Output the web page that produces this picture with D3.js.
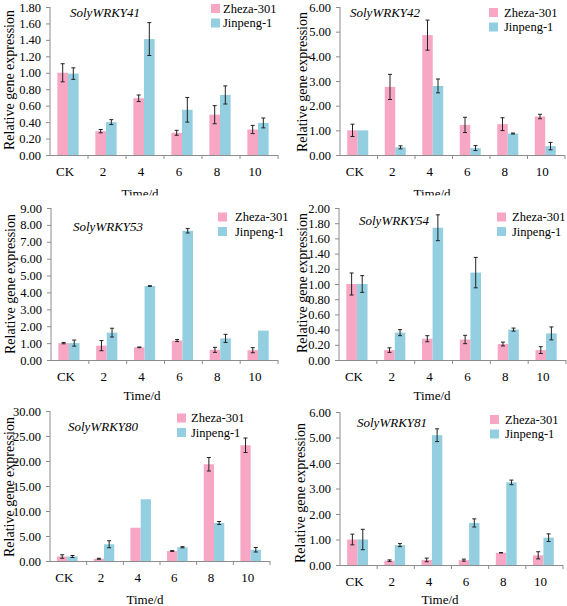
<!DOCTYPE html>
<html><head><meta charset="utf-8">
<script src="https://cdn.jsdelivr.net/npm/d3@7"></script>
<style>
html,body{margin:0;padding:0;background:#fff;}
svg{display:block;}
</style>
</head><body>
<svg id="c" width="567" height="606"></svg>
<script>
const categories = ["CK","2","4","6","8","10"];
const seriesNames = ["Zheza-301","Jinpeng-1"];
const genes = ["SolyWRKY41","SolyWRKY42","SolyWRKY53","SolyWRKY54","SolyWRKY80","SolyWRKY81"];

const zheza41 = [1.00,0.29,0.69,0.27,0.49,0.31];
const zheza41Err = [0.11,0.02,0.04,0.03,0.11,0.05];
const jin41 = [0.99,0.40,1.41,0.55,0.73,0.39];
const jin41Err = [0.07,0.03,0.20,0.15,0.11,0.06];

const zheza42 = [1.00,2.76,4.86,1.22,1.25,1.56];
const zheza42Err = [0.25,0.51,0.61,0.31,0.26,0.09];
const jin42 = [1.00,0.31,2.80,0.28,0.87,0.36];
const jin42Err = [0.00,0.06,0.28,0.10,0.02,0.15];

const zheza53 = [1.00,0.85,0.75,1.15,0.60,0.58];
const zheza53Err = [0.04,0.30,0.02,0.06,0.15,0.15];
const jin53 = [1.00,1.62,4.38,7.65,1.28,1.74];
const jin53Err = [0.18,0.26,0.02,0.13,0.24,0.00];

const zheza54 = [1.00,0.13,0.28,0.27,0.21,0.13];
const zheza54Err = [0.145,0.03,0.04,0.055,0.025,0.045];
const jin54 = [1.00,0.36,1.74,1.15,0.40,0.35];
const jin54Err = [0.11,0.04,0.17,0.20,0.02,0.085];

const zheza80 = [0.90,0.45,6.65,2.00,19.35,23.15];
const zheza80Err = [0.35,0.10,0.00,0.08,1.35,1.45];
const jin80 = [0.90,3.35,12.35,2.75,7.60,2.25];
const jin80Err = [0.20,0.70,0.00,0.12,0.30,0.45];

const zheza81 = [1.00,0.17,0.20,0.19,0.48,0.38];
const zheza81Err = [0.21,0.03,0.07,0.04,0.01,0.14];
const jin81 = [1.00,0.78,5.09,1.65,3.24,1.07];
const jin81Err = [0.40,0.06,0.25,0.16,0.09,0.15];

const yMax = [1.8,6,9,2,30,6];
const yStep = [0.2,1,1,0.2,5,1];

const zhezaVals = [zheza41,zheza42,zheza53,zheza54,zheza80,zheza81];
const zhezaErrs = [zheza41Err,zheza42Err,zheza53Err,zheza54Err,zheza80Err,zheza81Err];
const jinVals = [jin41,jin42,jin53,jin54,jin80,jin81];
const jinErrs = [jin41Err,jin42Err,jin53Err,jin54Err,jin80Err,jin81Err];

const colors = ["#f7a6c4","#93cfe0"];
const FONT = "Liberation Serif";

// layout per panel (clip: y limit for the partly hidden "Time/d" of the top row)
const layout = [
  {x0:50,x1:278,yT:7,yB:155,title:[70,17],leg:[211,223,8.5],ylab:[9,80],tlab:[140,198],clip:195.5},
  {x0:340,x1:565,yT:7,yB:155,title:[350,17],leg:[489,504,12.5],ylab:[302,82],tlab:[432,198],clip:195.5},
  {x0:51,x1:278,yT:208,yB:360,title:[73,231],leg:[218,235,217],ylab:[10,284],tlab:[142,400]},
  {x0:339,x1:566,yT:208,yB:360,title:[359,225],leg:[497,512,217],ylab:[302,283],tlab:[432,400]},
  {x0:50,x1:270,yT:411,yB:561,title:[68,431],leg:[177,191,418],ylab:[9,487],tlab:[145,604]},
  {x0:340,x1:563,yT:412,yB:565,title:[357,427],leg:[490,505,419.5],ylab:[300,493],tlab:[440,604]}
];

const svg = d3.select("#c");
svg.append("defs").append("clipPath").attr("id","topclip")
  .append("rect").attr("x",0).attr("y",0).attr("width",567).attr("height",195.5);

layout.forEach((L,i)=>{
  const g = svg.append("g");
  const x = d3.scaleBand().domain(categories).range([L.x0,L.x1]).padding(0);
  const y = d3.scaleLinear().domain([0,yMax[i]]).range([L.yB,L.yT]);
  const bw = x.bandwidth()*0.28;
  const sub = d3.scaleBand().domain(seriesNames).range([-bw,bw]);
  const ticks = d3.range(0,yMax[i]+yStep[i]/2,yStep[i]);

  const series = [
    {name:seriesNames[0],vals:zhezaVals[i],errs:zhezaErrs[i],color:colors[0]},
    {name:seriesNames[1],vals:jinVals[i],errs:jinErrs[i],color:colors[1]}
  ];

  series.forEach(s=>{
    g.selectAll(null).data(categories).enter().append("rect")
      .attr("x",(c)=>x(c)+x.bandwidth()/2-1+sub(s.name))
      .attr("width",sub.bandwidth())
      .attr("y",(c,j)=>y(s.vals[j]))
      .attr("height",(c,j)=>y(0)-y(s.vals[j]))
      .attr("fill",s.color);
  });
  series.forEach(s=>{
    categories.forEach((c,j)=>{
      const e = s.errs[j];
      if(e<=0.0001) return;
      const cx = x(c)+x.bandwidth()/2-1+sub(s.name)+sub.bandwidth()/2;
      const yt = y(s.vals[j]+e), yb = y(Math.max(0,s.vals[j]-e));
      g.append("line").attr("x1",cx).attr("x2",cx).attr("y1",yt).attr("y2",yb).attr("stroke","#222").attr("stroke-width",1);
      [yt,yb].forEach(yy=>g.append("line").attr("x1",cx-2).attr("x2",cx+2).attr("y1",yy).attr("y2",yy).attr("stroke","#222").attr("stroke-width",1));
    });
  });

  // y axis
  const ya = d3.axisLeft(y).tickValues(ticks).tickFormat(d3.format(".2f")).tickSize(4).tickPadding(5);
  const yg = g.append("g").attr("transform",`translate(${L.x0},0)`).call(ya);
  yg.attr("font-family",FONT).attr("font-size",12.5);
  yg.select(".domain").attr("stroke","#8c8c8c").attr("d",`M0,${L.yB}V${L.yT}`);
  yg.selectAll(".tick line").attr("stroke","#8c8c8c");
  yg.selectAll("text").attr("fill","#000");

  // x axis
  const xg = g.append("g");
  xg.append("line").attr("x1",L.x0).attr("x2",L.x1).attr("y1",L.yB+0.5).attr("y2",L.yB+0.5).attr("stroke","#8c8c8c");
  categories.forEach(c=>{
    xg.append("line").attr("x1",x(c)+x.bandwidth()).attr("x2",x(c)+x.bandwidth())
      .attr("y1",L.yB).attr("y2",L.yB+4).attr("stroke","#8c8c8c");
    xg.append("text").attr("x",x(c)+x.bandwidth()/2-4).attr("y",L.yB+21)
      .attr("text-anchor","middle").attr("font-family",FONT).attr("font-size",13).text(c);
  });

  // axis titles
  g.append("text").attr("transform",`translate(${L.ylab[0]+5},${L.ylab[1]}) rotate(-90)`)
    .attr("text-anchor","middle").attr("font-family",FONT).attr("font-size",14).text("Relative gene expression");
  const tl = g.append("text").attr("x",L.tlab[0]).attr("y",L.tlab[1]).attr("text-anchor","middle")
    .attr("font-family",FONT).attr("font-size",13).text("Time/d");
  if(L.clip) tl.attr("clip-path","url(#topclip)");

  // gene title
  g.append("text").attr("x",L.title[0]).attr("y",L.title[1]).attr("font-family",FONT)
    .attr("font-style","italic").attr("font-size",13).text(genes[i]);

  // legend
  series.forEach((s,k)=>{
    const yy = L.leg[2]+k*14.5;
    g.append("rect").attr("x",L.leg[0]).attr("y",yy-4.5).attr("width",9).attr("height",9).attr("fill",s.color);
    g.append("text").attr("x",L.leg[1]).attr("y",yy+4.2).attr("font-family",FONT).attr("font-size",12.5).text(s.name);
  });
});
</script>
</body></html>
